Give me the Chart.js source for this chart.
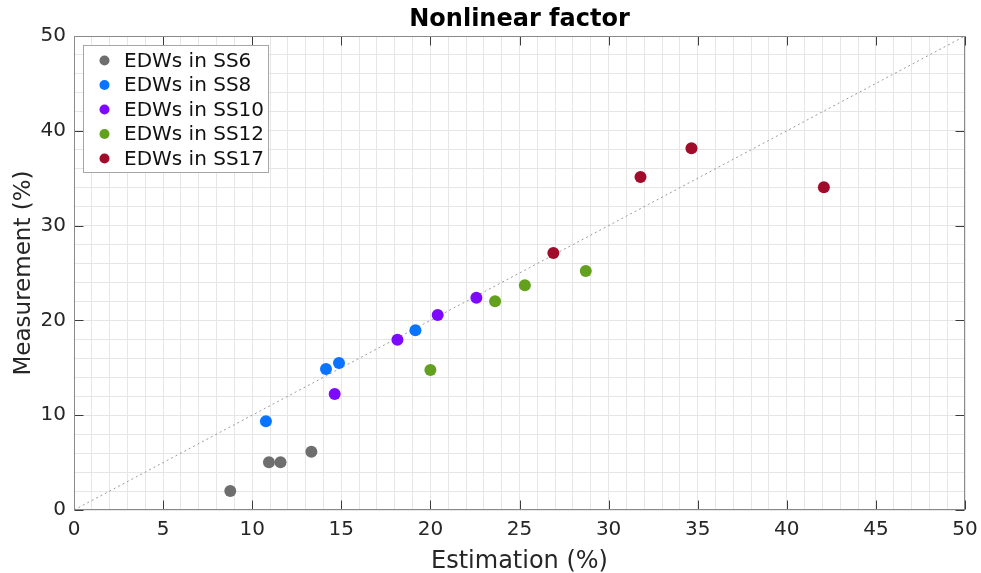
<!DOCTYPE html>
<html><head><meta charset="utf-8">
<script src="https://cdn.jsdelivr.net/npm/chart.js@4"></script>
<style>html,body{margin:0;padding:0;background:#fff}</style>
</head><body>
<canvas id="c" width="981" height="573" style="width:981px;height:573px;display:block"></canvas>
<script>
const chartTitle = 'Nonlinear factor';
const xTitle = 'Estimation (%)';
const yTitle = 'Measurement (%)';
const seriesNames = ['EDWs in SS6', 'EDWs in SS8', 'EDWs in SS10', 'EDWs in SS12', 'EDWs in SS17'];
const seriesColors = ['#6e6e6e', '#0a74ff', '#7d0aff', '#62a01e', '#a00c2a'];
const ss6X = [8.77, 10.94, 11.59, 13.32];
const ss6Y = [2.0, 5.03, 5.03, 6.15];
const ss8X = [10.77, 14.14, 14.87, 19.16];
const ss8Y = [9.36, 14.87, 15.5, 18.96];
const ss10X = [14.63, 18.15, 20.41, 22.58];
const ss10Y = [12.24, 17.97, 20.57, 22.4];
const ss12X = [20.0, 23.63, 25.3, 28.72];
const ss12Y = [14.77, 22.01, 23.7, 25.21];
const ss17X = [26.9, 31.79, 34.65, 42.08];
const ss17Y = [27.1, 35.13, 38.15, 34.04];
const refLine = [0, 50];
const xMajorTicks = [0, 5, 10, 15, 20, 25, 30, 35, 40, 45, 50];
const yMajorTicks = [0, 10, 20, 30, 40, 50];

const FONT = "'DejaVu Sans', sans-serif";
const allX = [ss6X, ss8X, ss10X, ss12X, ss17X];
const allY = [ss6Y, ss8Y, ss10Y, ss12Y, ss17Y];

const datasets = seriesNames.map((name, i) => ({
  type: 'scatter',
  label: name,
  data: allX[i].map((x, j) => ({x: x, y: allY[i][j]})),
  backgroundColor: seriesColors[i],
  borderColor: seriesColors[i],
  pointRadius: 6,
  pointBorderWidth: 0,
  order: 0
}));
datasets.push({
  type: 'line',
  label: 'ref',
  data: refLine.map(v => ({x: v, y: v})),
  borderColor: '#9a9a9a',
  borderWidth: 1,
  borderDash: [2, 3],
  pointRadius: 0,
  fill: false,
  order: 10
});

const boxPlugin = {
  id: 'box',
  afterDraw(chart) {
    const ctx = chart.ctx;
    const a = chart.chartArea;
    const xs = chart.scales.x, ys = chart.scales.y;
    const L = Math.round(a.left) + 0.5, R = Math.round(a.right) - 0.5;
    const T = Math.round(a.top) + 0.5, B = Math.round(a.bottom) - 0.5;
    ctx.save();
    ctx.strokeStyle = '#3c3c3c';
    ctx.lineWidth = 1;
    ctx.beginPath();
    xMajorTicks.forEach(v => {
      const px = Math.round(xs.getPixelForValue(v)) + 0.5;
      ctx.moveTo(px, B); ctx.lineTo(px, B - 9);
      ctx.moveTo(px, T); ctx.lineTo(px, T + 9);
    });
    yMajorTicks.forEach(v => {
      const py = Math.round(ys.getPixelForValue(v)) + 0.5;
      ctx.moveTo(L, py); ctx.lineTo(L + 9, py);
      ctx.moveTo(R, py); ctx.lineTo(R - 9, py);
    });
    ctx.stroke();
    ctx.strokeStyle = '#8a8a8a';
    ctx.strokeRect(L, T, R - L, B - T);
    ctx.fillStyle = '#000';
    ctx.font = "bold 24px " + FONT;
    ctx.textAlign = 'center';
    ctx.textBaseline = 'middle';
    ctx.fillText(chartTitle, (a.left + a.right) / 2, 20);
    const lx = 83.5, ly = 45.5, lw = 185, lh = 127, rowH = 24.5;
    ctx.fillStyle = '#fff';
    ctx.fillRect(lx, ly, lw, lh);
    ctx.strokeStyle = '#a6a6a6';
    ctx.strokeRect(lx, ly, lw, lh);
    ctx.font = "20px " + FONT;
    ctx.textAlign = 'left';
    seriesNames.forEach((name, i) => {
      const cy = 60.5 + i * rowH;
      ctx.fillStyle = seriesColors[i];
      ctx.beginPath();
      ctx.arc(104.5, cy, 5, 0, Math.PI * 2);
      ctx.fill();
      ctx.fillStyle = '#111';
      ctx.fillText(name, 124, cy + 1);
    });
    ctx.restore();
  }
};

new Chart(document.getElementById('c'), {
  data: { datasets: datasets },
  options: {
    responsive: false,
    animation: false,
    layout: { padding: { left: 0, right: 16, top: 36, bottom: 0 } },
    plugins: { legend: { display: false }, title: { display: false }, tooltip: { enabled: false } },
    scales: {
      x: {
        type: 'linear', min: 0, max: 50,
        afterFit(s) { s.height = 63; s.paddingRight = 0; s.paddingLeft = 0; },
        border: { display: false },
        grid: { color: '#e6e6e6', lineWidth: 1, drawTicks: false },
        ticks: {
          stepSize: 1, autoSkip: false, maxRotation: 0, padding: 8,
          color: '#262626', font: { family: FONT, size: 20 },
          callback: v => (xMajorTicks.includes(v) ? String(v) : '')
        },
        title: { display: true, text: xTitle, color: '#262626', font: { family: FONT, size: 24 }, padding: { top: 0, bottom: -3 } }
      },
      y: {
        type: 'linear', min: 0, max: 50,
        afterFit(s) { s.width = 74; s.paddingTop = 0; s.paddingBottom = 0; },
        border: { display: false },
        grid: { color: '#e6e6e6', lineWidth: 1, drawTicks: false },
        ticks: {
          stepSize: 2, autoSkip: false, padding: 8,
          color: '#262626', font: { family: FONT, size: 20 },
          callback: v => (yMajorTicks.includes(v) ? String(v) : '')
        },
        title: { display: true, text: yTitle, color: '#262626', font: { family: FONT, size: 23 }, padding: { top: 10, bottom: 0 } }
      }
    }
  },
  plugins: [boxPlugin]
});
</script>
</body></html>
